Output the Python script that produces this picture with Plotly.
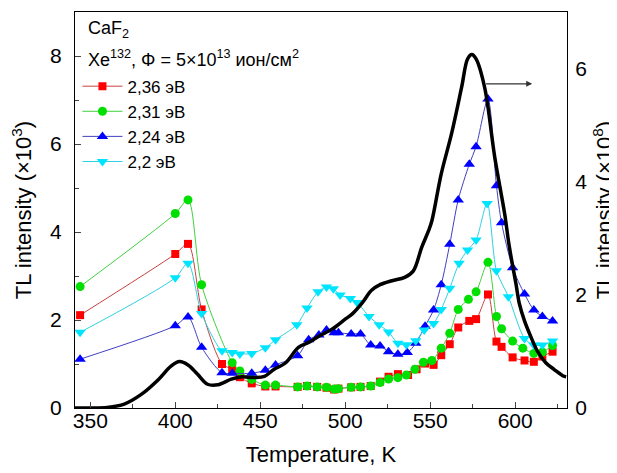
import plotly.graph_objects as go

# ---- data ----
T_r = [344, 400, 407.5, 415.5, 427.5, 433.5, 438, 445, 453, 459, 472, 477.5, 483.5, 489, 493.5,
       496, 503.5, 509, 515, 520.5, 525.5, 531, 537, 542, 547, 552, 556.5, 561.5, 566.5, 573,
       577, 584, 589, 592, 598.5, 605.5, 611, 616, 622]
Y_r = [2.11, 3.5, 3.73, 2.24, 1.0, 0.88, 0.70, 0.56, 0.49, 0.49, 0.48, 0.50, 0.48, 0.46, 0.42,
       0.44, 0.47, 0.48, 0.50, 0.60, 0.71, 0.77, 0.75, 0.88, 1.01, 0.98, 1.20, 1.45, 1.83, 1.98,
       2.02, 2.58, 1.51, 1.39, 1.15, 1.08, 1.05, 1.17, 1.28]

T_g = [344, 400, 407.5, 415.5, 433.5, 438, 445, 453, 459, 472, 477.5, 483.5, 489, 493.5, 496,
       503.5, 509, 515, 520.5, 525.5, 531, 536, 541, 546, 551, 556.5, 561.5, 566.5, 572.5, 577,
       584, 589, 592, 598.5, 604.5, 611, 616, 622]
Y_g = [2.76, 4.42, 4.73, 2.8, 1.03, 0.84, 0.65, 0.52, 0.52, 0.48, 0.50, 0.48, 0.47, 0.43, 0.44,
       0.47, 0.48, 0.50, 0.58, 0.66, 0.69, 0.75, 0.88, 1.04, 1.08, 1.36, 1.70, 2.24, 2.47, 2.64,
       3.31, 2.08, 1.80, 1.52, 1.36, 1.24, 1.27, 1.42]

T_b = [344, 400, 407.5, 415.5, 427.5, 433.5, 445, 453, 459, 472, 478.5, 484.5, 489, 493.5, 496,
       503.5, 509, 515, 520.5, 525.5, 531, 536.5, 541.5, 547, 552, 556.5, 561.5, 566.5, 573, 577,
       584, 589, 592, 598.5, 605.5, 611, 616, 622]
Y_b = [1.11, 1.87, 2.07, 1.38, 0.80, 0.79, 0.79, 0.86, 0.98, 1.19, 1.55, 1.66, 1.77, 1.71, 1.71,
       1.68, 1.68, 1.43, 1.41, 1.28, 1.22, 1.26, 1.47, 1.86, 2.23, 2.80, 3.72, 4.73, 5.54, 5.94,
       7.02, 5.05, 4.21, 3.19, 2.59, 2.23, 2.08, 1.98]

T_c = [344, 400, 407.5, 415.5, 427.5, 433.5, 438, 445, 453, 459, 471.5, 477.5, 484, 489, 493,
       497, 503, 507, 514, 520, 525.5, 531, 536, 541.5, 546.5, 552, 556.5, 561.5, 567, 572,
       577, 583.5, 589, 596, 605.5, 611, 616, 622]
Y_c = [1.72, 2.96, 3.29, 2.15, 1.30, 1.26, 1.23, 1.24, 1.37, 1.55, 1.89, 2.27, 2.64, 2.75, 2.71,
       2.57, 2.49, 2.40, 2.08, 1.89, 1.73, 1.47, 1.44, 1.53, 1.77, 1.92, 2.24, 2.72, 3.29, 3.59,
       3.82, 4.65, 3.12, 2.53, 1.58, 1.43, 1.43, 1.52]

# black curve, right axis (x10^8)
T_k = [341, 350, 360, 370, 380, 390, 397.5, 402.5, 407.5, 413, 419, 425, 433, 438.5, 446.5,
       452.5, 458, 465, 472.5, 478.5, 484.5, 492, 500, 504, 510, 515.5, 520.5, 527.5, 535, 540,
       545, 549, 551, 556.5, 562.5, 568.5, 572, 574.5, 577, 582, 588, 594, 596, 598, 600.5,
       602.5, 605.5, 609.5, 613, 618, 623, 628, 630]
Y_k = [0, 0, 0.01, 0.07, 0.24, 0.5, 0.74, 0.82, 0.76, 0.6, 0.42, 0.41, 0.51, 0.55, 0.54,
       0.56, 0.68, 0.8, 1.07, 1.16, 1.27, 1.39, 1.57, 1.66, 1.86, 2.08, 2.18, 2.25, 2.31, 2.42,
       2.84, 3.13, 3.31, 4.14, 4.84, 5.67, 6.17, 6.25, 6.17, 5.67, 4.43, 3.4, 2.96, 2.6, 2.19,
       1.84, 1.54, 1.24, 1.01, 0.8, 0.68, 0.57, 0.55]

x_ticks = [350, 400, 450, 500, 550, 600]
yl_ticks = [0, 2, 4, 6, 8]
yr_ticks = [0, 2, 4, 6]

FONT = "Liberation Sans, Arial, sans-serif"

fig = go.Figure()

series = [
    ("2,36 эВ", T_r, Y_r, "#ff0000", "#c84040", "square", 8),
    ("2,31 эВ", T_g, Y_g, "#00e000", "#40d040", "circle", 9),
    ("2,24 эВ", T_b, Y_b, "#0000ff", "#4040c0", "triangle-up", 10),
    ("2,2 эВ", T_c, Y_c, "#00e5ff", "#30d0e0", "triangle-down", 10),
]
for name, t, y, mc, lc, sym, sz in series:
    fig.add_trace(go.Scatter(
        x=t, y=y, name=name, mode="lines+markers",
        line=dict(color=lc, width=1, shape="spline", smoothing=0.8),
        marker=dict(color=mc, symbol=sym, size=sz, line=dict(width=0)),
        yaxis="y",
    ))

fig.add_trace(go.Scatter(
    x=T_k, y=Y_k, mode="lines", showlegend=False,
    line=dict(color="black", width=3.5, shape="spline", smoothing=1.0),
    yaxis="y2",
))

fig.add_annotation(text="CaF<sub>2</sub>", xref="paper", yref="paper", x=0.022, y=0.955,
                   xanchor="left", yanchor="middle", showarrow=False,
                   font=dict(family=FONT, size=18, color="black"))
fig.add_annotation(text="Xe<sup>132</sup>, Φ = 5×10<sup>13</sup> ион/см<sup>2</sup>",
                   xref="paper", yref="paper", x=0.022, y=0.882,
                   xanchor="left", yanchor="middle", showarrow=False,
                   font=dict(family=FONT, size=18, color="black"))
fig.add_annotation(x=610, y=5.73, xref="x", yref="y2", ax=582, ay=5.73, axref="x", ayref="y2",
                   showarrow=True, arrowhead=2, arrowsize=1, arrowwidth=1.2,
                   arrowcolor="#333333", text="")

axis_font = dict(family=FONT, size=21, color="black")
title_font = dict(family=FONT, size=22, color="black")
fig.update_layout(
    width=609, height=465,
    margin=dict(l=67, r=50, t=4, b=65, autoexpand=False),
    paper_bgcolor="white", plot_bgcolor="white",
    font=dict(family=FONT, color="black"),
    showlegend=True,
    legend=dict(x=0.005, y=0.857, xanchor="left", yanchor="top",
                bgcolor="rgba(0,0,0,0)", font=dict(family=FONT, size=17, color="black"),
                itemwidth=40, tracegroupgap=0),
    xaxis=dict(range=[341, 630.5], tickvals=x_ticks, ticks="inside", ticklen=6, tickwidth=1,
               minor=dict(dtick=25, ticks="inside", ticklen=4, tickwidth=1, tick0=325),
               showline=True, linecolor="black", linewidth=1.2, mirror=True, automargin=False,
               showgrid=False, zeroline=False, tickfont=axis_font, ticklabelstandoff=-6,
               title=dict(text="Temperature, K", font=title_font)),
    yaxis=dict(range=[0, 9], tickvals=yl_ticks, ticks="inside", ticklen=6, tickwidth=1,
               minor=dict(dtick=1, ticks="inside", ticklen=4, tickwidth=1),
               showline=True, linecolor="black", linewidth=1.2, automargin=False,
               showgrid=False, zeroline=False, tickfont=axis_font, ticklabelstandoff=8,
               title=dict(text="TL intensity (×10<sup>3</sup>)", font=title_font)),
    yaxis2=dict(range=[0, 7], tickvals=yr_ticks, ticks="", overlaying="y", side="right",
                showline=True, linecolor="black", linewidth=1.2, automargin=False,
                showgrid=False, zeroline=False, tickfont=axis_font, ticklabelstandoff=3,
                title=dict(text="TL intensity (×10<sup>8</sup>)", font=title_font)),
)

fig.write_html("out.html")
